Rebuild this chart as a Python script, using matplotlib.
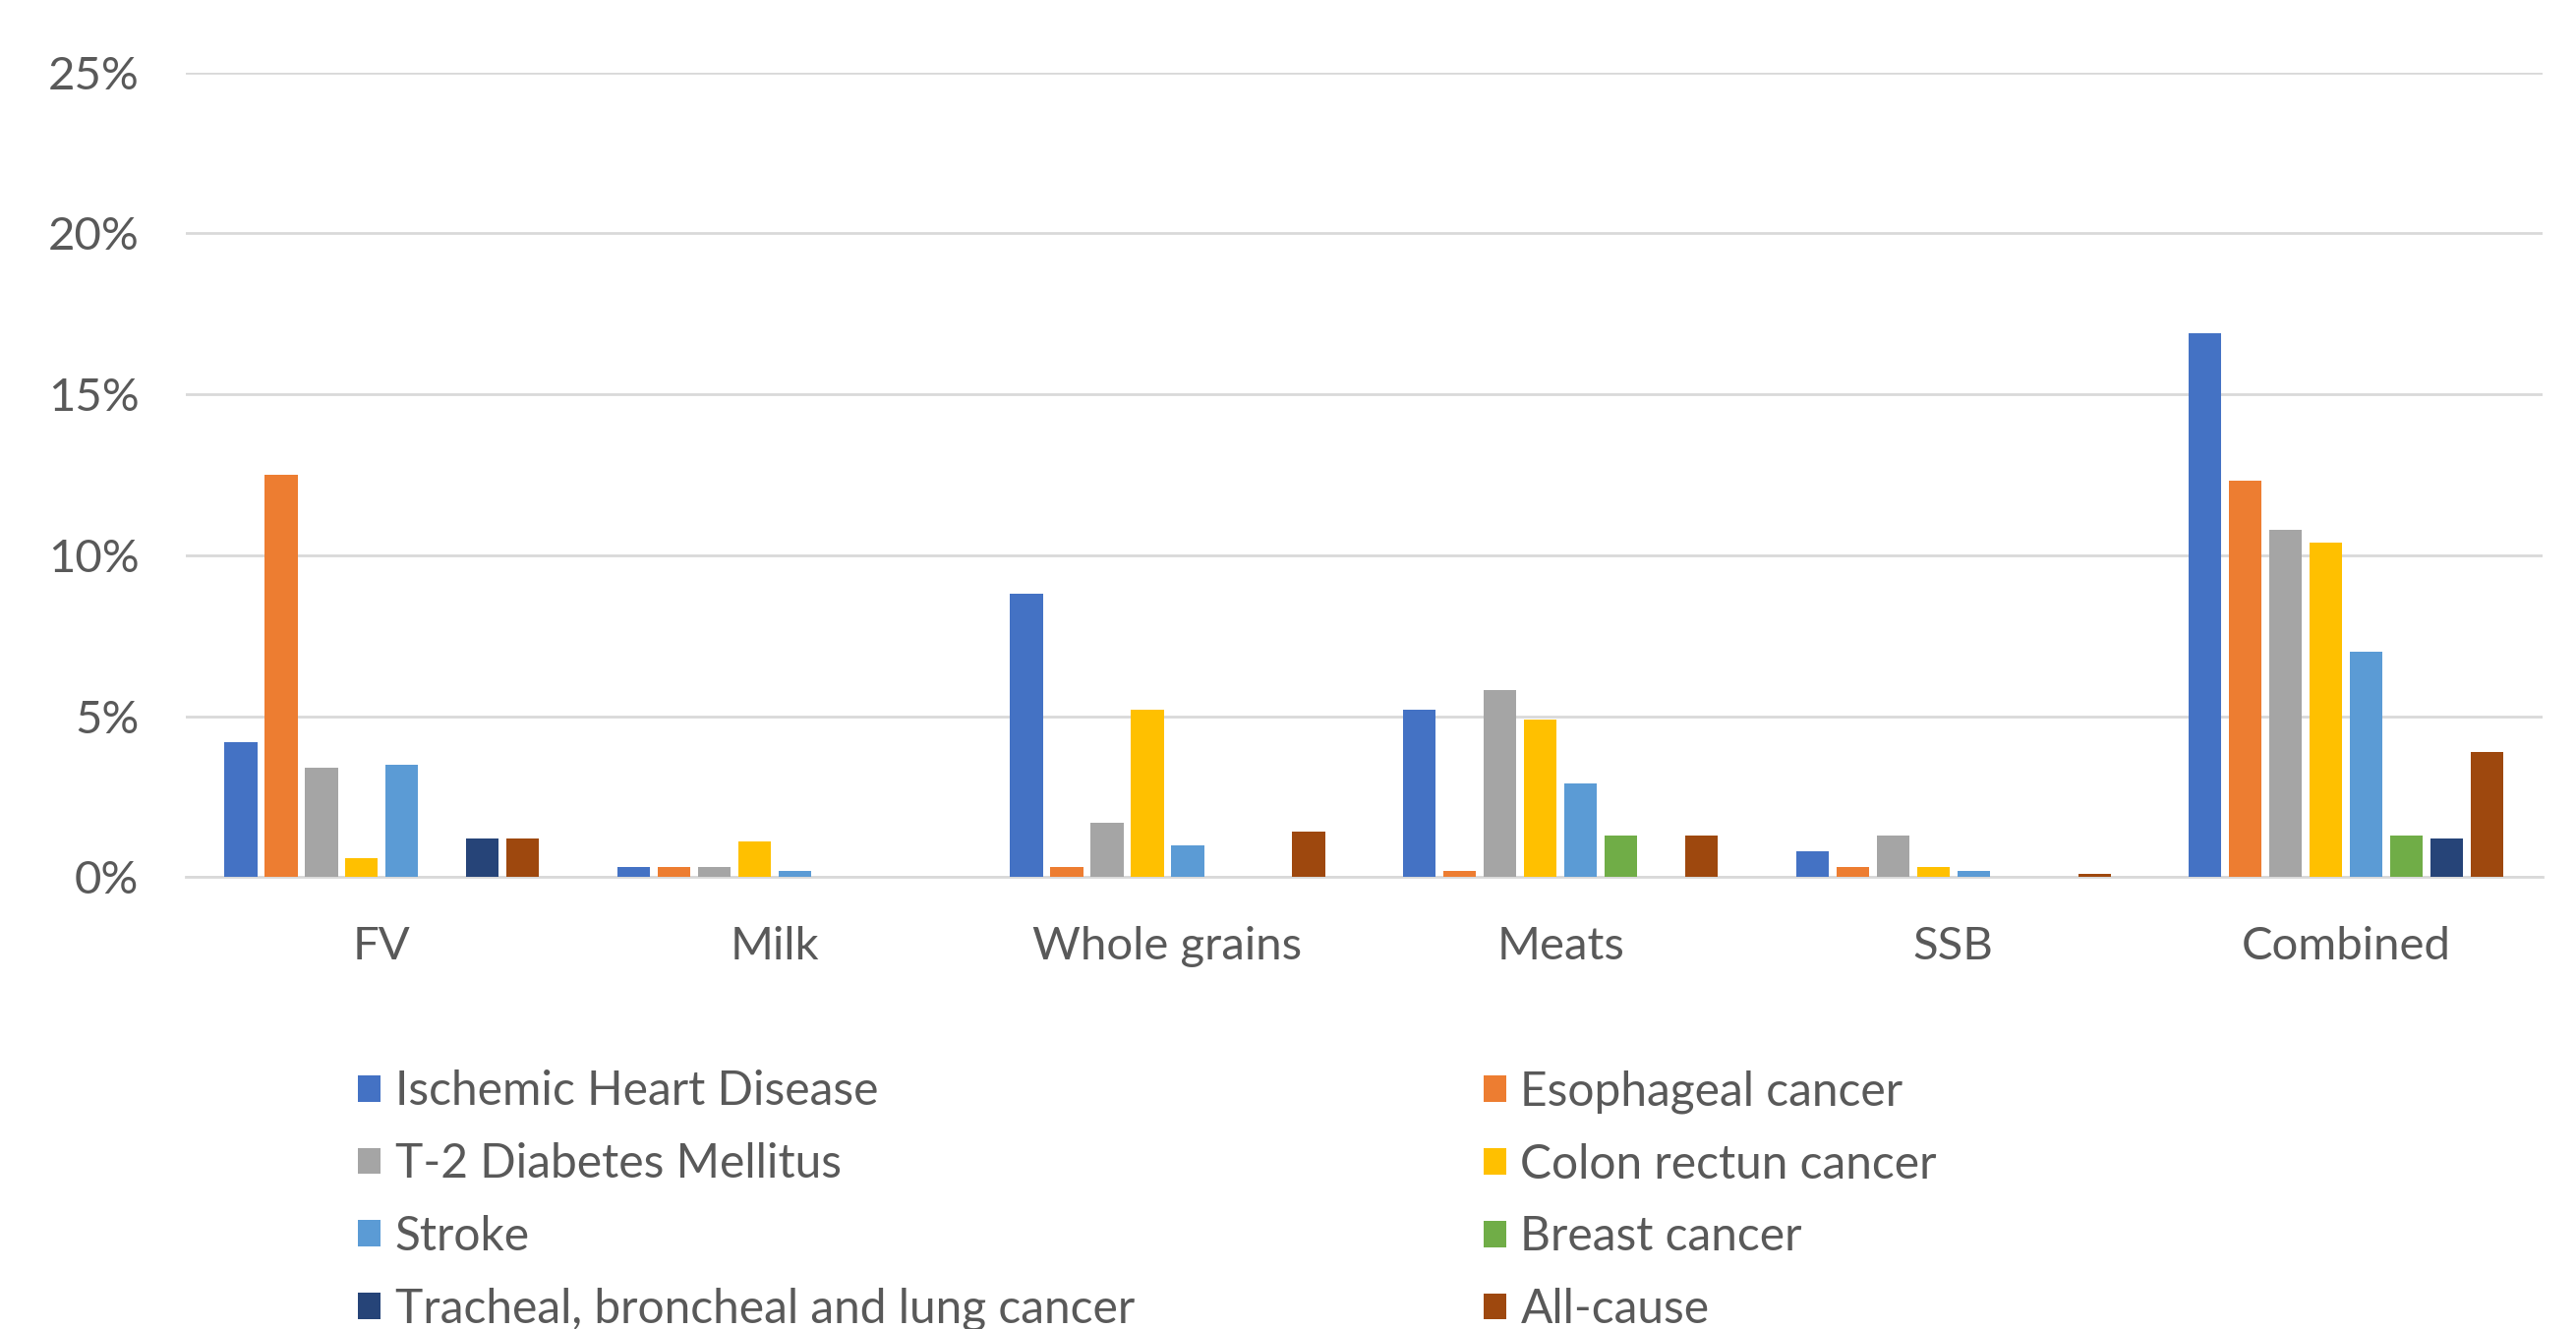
import numpy as np
import matplotlib.pyplot as plt
from matplotlib.ticker import PercentFormatter

plt.rcParams['font.family'] = ['Lato', 'DejaVu Sans']

categories = ['FV', 'Milk', 'Whole grains', 'Meats', 'SSB', 'Combined']

series_names = ['Ischemic Heart Disease', 'Esophageal cancer', 'T-2 Diabetes Mellitus',
                'Colon rectun cancer', 'Stroke', 'Breast cancer',
                'Tracheal, broncheal and lung cancer', 'All-cause']

# percent of deaths attributable, per food group
ihd = [4.2, 0.3, 8.8, 5.2, 0.8, 16.9]
esophageal = [12.5, 0.3, 0.3, 0.2, 0.3, 12.3]
diabetes = [3.4, 0.3, 1.7, 5.8, 1.3, 10.8]
colon = [0.6, 1.1, 5.2, 4.9, 0.3, 10.4]
stroke = [3.5, 0.2, 1.0, 2.9, 0.2, 7.0]
breast = [0, 0, 0, 1.3, 0, 1.3]
lung = [1.2, 0, 0, 0, 0, 1.2]
all_cause = [1.2, 0, 1.4, 1.3, 0.1, 3.9]

series = [ihd, esophageal, diabetes, colon, stroke, breast, lung, all_cause]
colors = ['#4472C4', '#ED7D31', '#A5A5A5', '#FFC000',
          '#5B9BD5', '#70AD47', '#264478', '#9E480E']

text_col = '#595959'
grid_col = '#D9D9D9'

fig = plt.figure(figsize=(26.2, 13.52), dpi=100)
ax = fig.add_axes([0.072, 0.34, 0.915, 0.6056])

x = np.arange(len(categories))
slot = 0.1026
width = 0.083
handles = []
for k, (vals, c) in enumerate(zip(series, colors)):
    off = (k - 3.5) * slot
    h = ax.bar(x + off, np.array(vals) / 100, width, color=c, zorder=3,
               label=series_names[k])
    handles.append(h)

ax.set_xlim(-0.5, len(categories) - 0.5)
ax.set_ylim(0, 0.25)
ax.set_yticks(np.arange(0, 0.26, 0.05))
ax.yaxis.set_major_formatter(PercentFormatter(1.0, decimals=0))
ax.set_xticks(x)
ax.set_xticklabels(categories)
ax.grid(axis='y', color=grid_col, linewidth=2, zorder=0)
ax.tick_params(axis='both', length=0, labelsize=34, labelcolor=text_col)
ax.tick_params(axis='y', pad=34)
ax.tick_params(axis='x', pad=36)
for s in ['top', 'right', 'left']:
    ax.spines[s].set_visible(False)
ax.spines['bottom'].set_color(grid_col)
ax.spines['bottom'].set_linewidth(2)

# legend in two columns, filled row by row
leg_kw = dict(loc='upper left', frameon=False, fontsize=34.5, labelcolor=text_col,
              handlelength=0.48, handleheight=0.48, handletextpad=0.3,
              labelspacing=0.62, borderaxespad=0, borderpad=0)
left_idx = [0, 2, 4, 6]
right_idx = [1, 3, 5, 7]
leg1 = fig.legend([handles[i] for i in left_idx], [series_names[i] for i in left_idx],
                  bbox_to_anchor=(0.139, 0.195), **leg_kw)
leg2 = fig.legend([handles[i] for i in right_idx], [series_names[i] for i in right_idx],
                  bbox_to_anchor=(0.576, 0.195), **leg_kw)

fig.savefig('out.png', dpi=100, facecolor='white')
